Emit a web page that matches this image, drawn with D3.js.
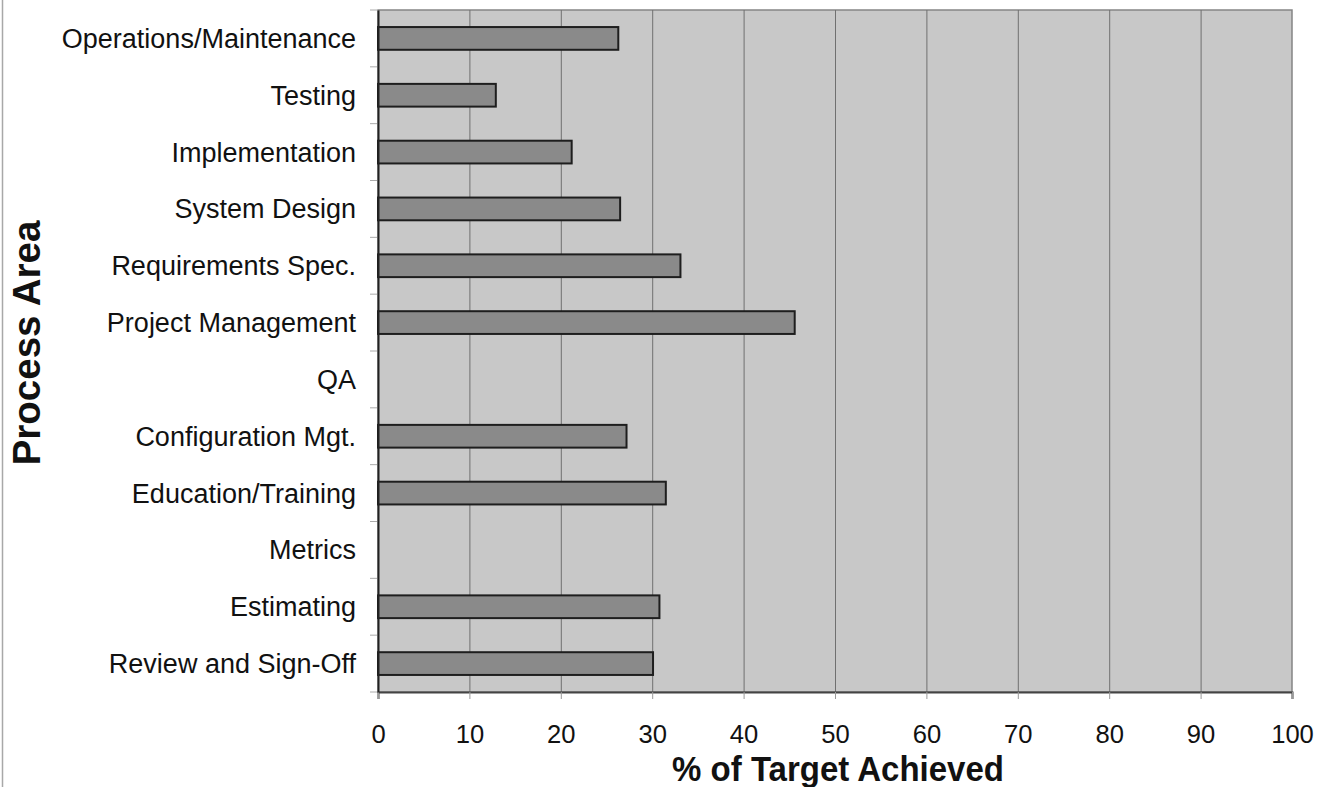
<!DOCTYPE html>
<html>
<head>
<meta charset="utf-8">
<script src="https://cdn.jsdelivr.net/npm/d3@7/dist/d3.min.js"></script>
<style>
  html, body { margin: 0; padding: 0; background: #ffffff; }
  svg { display: block; }
  text { font-family: Arial, "Liberation Sans", Helvetica, sans-serif; fill: #111; }
</style>
</head>
<body>
<svg id="chart" width="1326" height="787"></svg>
<script>
const categories = [
  "Operations/Maintenance", "Testing", "Implementation", "System Design",
  "Requirements Spec.", "Project Management", "QA", "Configuration Mgt.",
  "Education/Training", "Metrics", "Estimating", "Review and Sign-Off"
];
const values = [26.4, 13.0, 21.3, 26.6, 33.2, 45.7, 0, 27.3, 31.6, 0, 30.9, 30.2];
const xTicks = [0, 10, 20, 30, 40, 50, 60, 70, 80, 90, 100];
const xTitle = "% of Target Achieved";
const yTitle = "Process Area";

const data = categories.map((c, i) => ({ cat: c, val: values[i] }));

const svg = d3.select("#chart");
const pL = 378, pR = 1292, pT = 10, pB = 692;

const x = d3.scaleLinear().domain([0, 100]).range([pL, pR]);
const y = d3.scaleBand().domain(categories).range([pT, pB])
  .paddingInner(0.6).paddingOuter(0.3);

// page left rule
svg.append("line").attr("x1", 2.5).attr("x2", 2.5).attr("y1", 0).attr("y2", 787)
  .attr("stroke", "#a8a8a8").attr("stroke-width", 1.5);

// plot background
svg.append("rect").attr("x", pL).attr("y", pT)
  .attr("width", pR - pL).attr("height", pB - pT)
  .attr("fill", "#c8c8c8").attr("stroke", "#858585").attr("stroke-width", 1.5);

// gridlines
svg.append("g").selectAll("line").data(xTicks.filter(t => t > 0 && t < 100)).join("line")
  .attr("x1", d => x(d) + 0.5).attr("x2", d => x(d) + 0.5)
  .attr("y1", pT).attr("y2", pB)
  .attr("stroke", "#707070").attr("stroke-width", 1);

// bars
svg.append("g").selectAll("rect").data(data.filter(d => d.val > 0)).join("rect")
  .attr("x", x(0))
  .attr("y", d => y(d.cat))
  .attr("width", d => x(d.val) - x(0) - 1)
  .attr("height", y.bandwidth())
  .attr("fill", "#8a8a8a")
  .attr("stroke", "#1e1e1e").attr("stroke-width", 2);

// x axis
const xAxis = d3.axisBottom(x).tickValues(xTicks).tickSize(7).tickPadding(26)
  .tickFormat(d3.format("d"));
const gx = svg.append("g").attr("transform", `translate(0,${pB})`).call(xAxis);
gx.select(".domain").attr("stroke", "#444").attr("stroke-width", 2);
gx.selectAll(".tick line").attr("stroke", "#999");
gx.selectAll(".tick text").attr("font-size", "25.6px")
  .attr("font-family", "Arial, 'Liberation Sans', sans-serif").attr("fill", "#111");

// y axis
const yAxis = d3.axisLeft(y).tickSize(0).tickPadding(22);
const gy = svg.append("g").attr("transform", `translate(${pL},0)`).call(yAxis);
gy.select(".domain").attr("stroke", "#222").attr("stroke-width", 2);
gy.selectAll(".tick text").attr("font-size", "27px")
  .attr("font-family", "Arial, 'Liberation Sans', sans-serif").attr("fill", "#111")
  .attr("dy", "0.35em");

// y tick marks at band boundaries
const bounds = categories.map((c, i) => y(c) - y.step() * y.paddingInner() / 2);
bounds.push(pB);
svg.append("g").selectAll("line").data(bounds).join("line")
  .attr("x1", pL - 8).attr("x2", pL - 1)
  .attr("y1", d => d).attr("y2", d => d)
  .attr("stroke", "#aaa").attr("stroke-width", 1);

// axis titles
svg.append("text").attr("x", (pL + pR) / 2 + 3).attr("y", 781)
  .attr("text-anchor", "middle").attr("font-weight", "bold")
  .attr("font-size", "33px").text(xTitle)
  .attr("transform", `translate(0,781) scale(1,1.05) translate(0,-781)`);

svg.append("text")
  .attr("transform", "translate(40,343) rotate(-90)")
  .attr("text-anchor", "middle").attr("font-weight", "bold")
  .attr("font-size", "38.5px").text(yTitle);
</script>
</body>
</html>
